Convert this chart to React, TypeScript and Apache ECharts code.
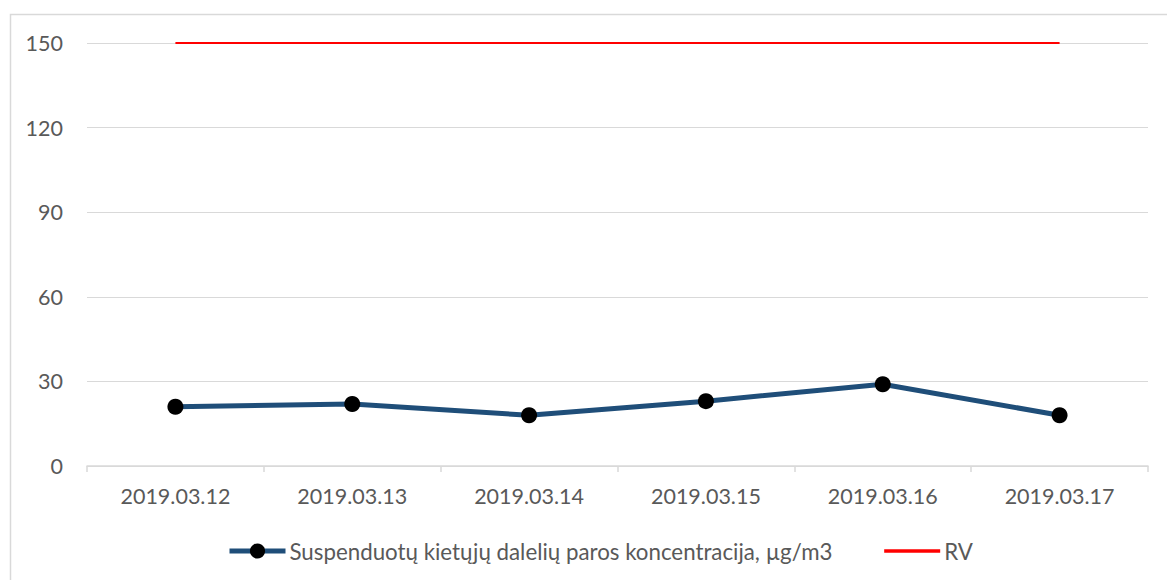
import React, { useEffect, useRef } from "react";
import * as echarts from "echarts";

const categories = ["2019.03.12", "2019.03.13", "2019.03.14", "2019.03.15", "2019.03.16", "2019.03.17"];
const pmValues = [21, 22, 18, 23, 29, 18];
const rvValues = [150, 150, 150, 150, 150, 150];
const yTicks = [0, 30, 60, 90, 120, 150];
const pmName = "Suspenduotų kietųjų dalelių paros koncentracija, µg/m3";
const rvName = "RV";

const FONT = "Lato";

export default function App() {
  const ref = useRef<HTMLDivElement>(null);
  useEffect(() => {
    if (!ref.current) return;
    const chart = echarts.init(ref.current, null, { renderer: "svg" });
    chart.setOption({
      animation: false,
      backgroundColor: "#ffffff",
      textStyle: { fontFamily: FONT },
      graphic: [
        {
          type: "rect",
          shape: { x: 10.5, y: 14.5, width: 1170, height: 580 },
          style: { fill: "none", stroke: "#d9d9d9", lineWidth: 1.5 },
          silent: true,
        },
      ],
      grid: { left: 87, right: 19, top: 43, bottom: 114, containLabel: false },
      xAxis: {
        type: "category",
        data: categories,
        boundaryGap: true,
        axisLine: { lineStyle: { color: "#d9d9d9", width: 1.5 } },
        axisTick: { show: true, length: 6, lineStyle: { color: "#d9d9d9", width: 1.5 } },
        axisLabel: { color: "#595959", fontSize: 21.5, fontFamily: FONT, margin: 19 },
        splitLine: { show: false },
      },
      yAxis: {
        type: "value",
        min: yTicks[0],
        max: yTicks[yTicks.length - 1],
        interval: 30,
        axisLine: { show: false },
        axisTick: { show: false },
        axisLabel: { color: "#595959", fontSize: 21.5, fontFamily: FONT, margin: 24 },
        splitLine: { lineStyle: { color: "#d9d9d9", width: 1 } },
      },
      legend: {
        bottom: 13,
        left: 222,
        itemWidth: 56,
        itemHeight: 19,
        itemGap: 50,
        textStyle: { color: "#595959", fontSize: 22.3, fontFamily: FONT, padding: [0, 0, 0, -1] },
        data: [
          { name: pmName, lineStyle: { width: 5 } },
          { name: rvName, lineStyle: { width: 3.5 }, itemStyle: { opacity: 0 } },
        ],
      },
      series: [
        {
          name: pmName,
          type: "line",
          data: pmValues,
          symbol: "circle",
          symbolSize: 16,
          lineStyle: { color: "#1f4e79", width: 5 },
          itemStyle: { color: "#000000", borderWidth: 0 },
          z: 3,
        },
        {
          name: rvName,
          type: "line",
          data: rvValues,
          symbol: "none",
          lineStyle: { color: "#ff0000", width: 2 },
          itemStyle: { color: "#ff0000" },
          z: 2,
        },
      ],
    });
    return () => chart.dispose();
  }, []);
  return (
    <div
      ref={ref}
      style={{ position: "fixed", left: 0, top: 0, width: 1167, height: 580 }}
    />
  );
}
